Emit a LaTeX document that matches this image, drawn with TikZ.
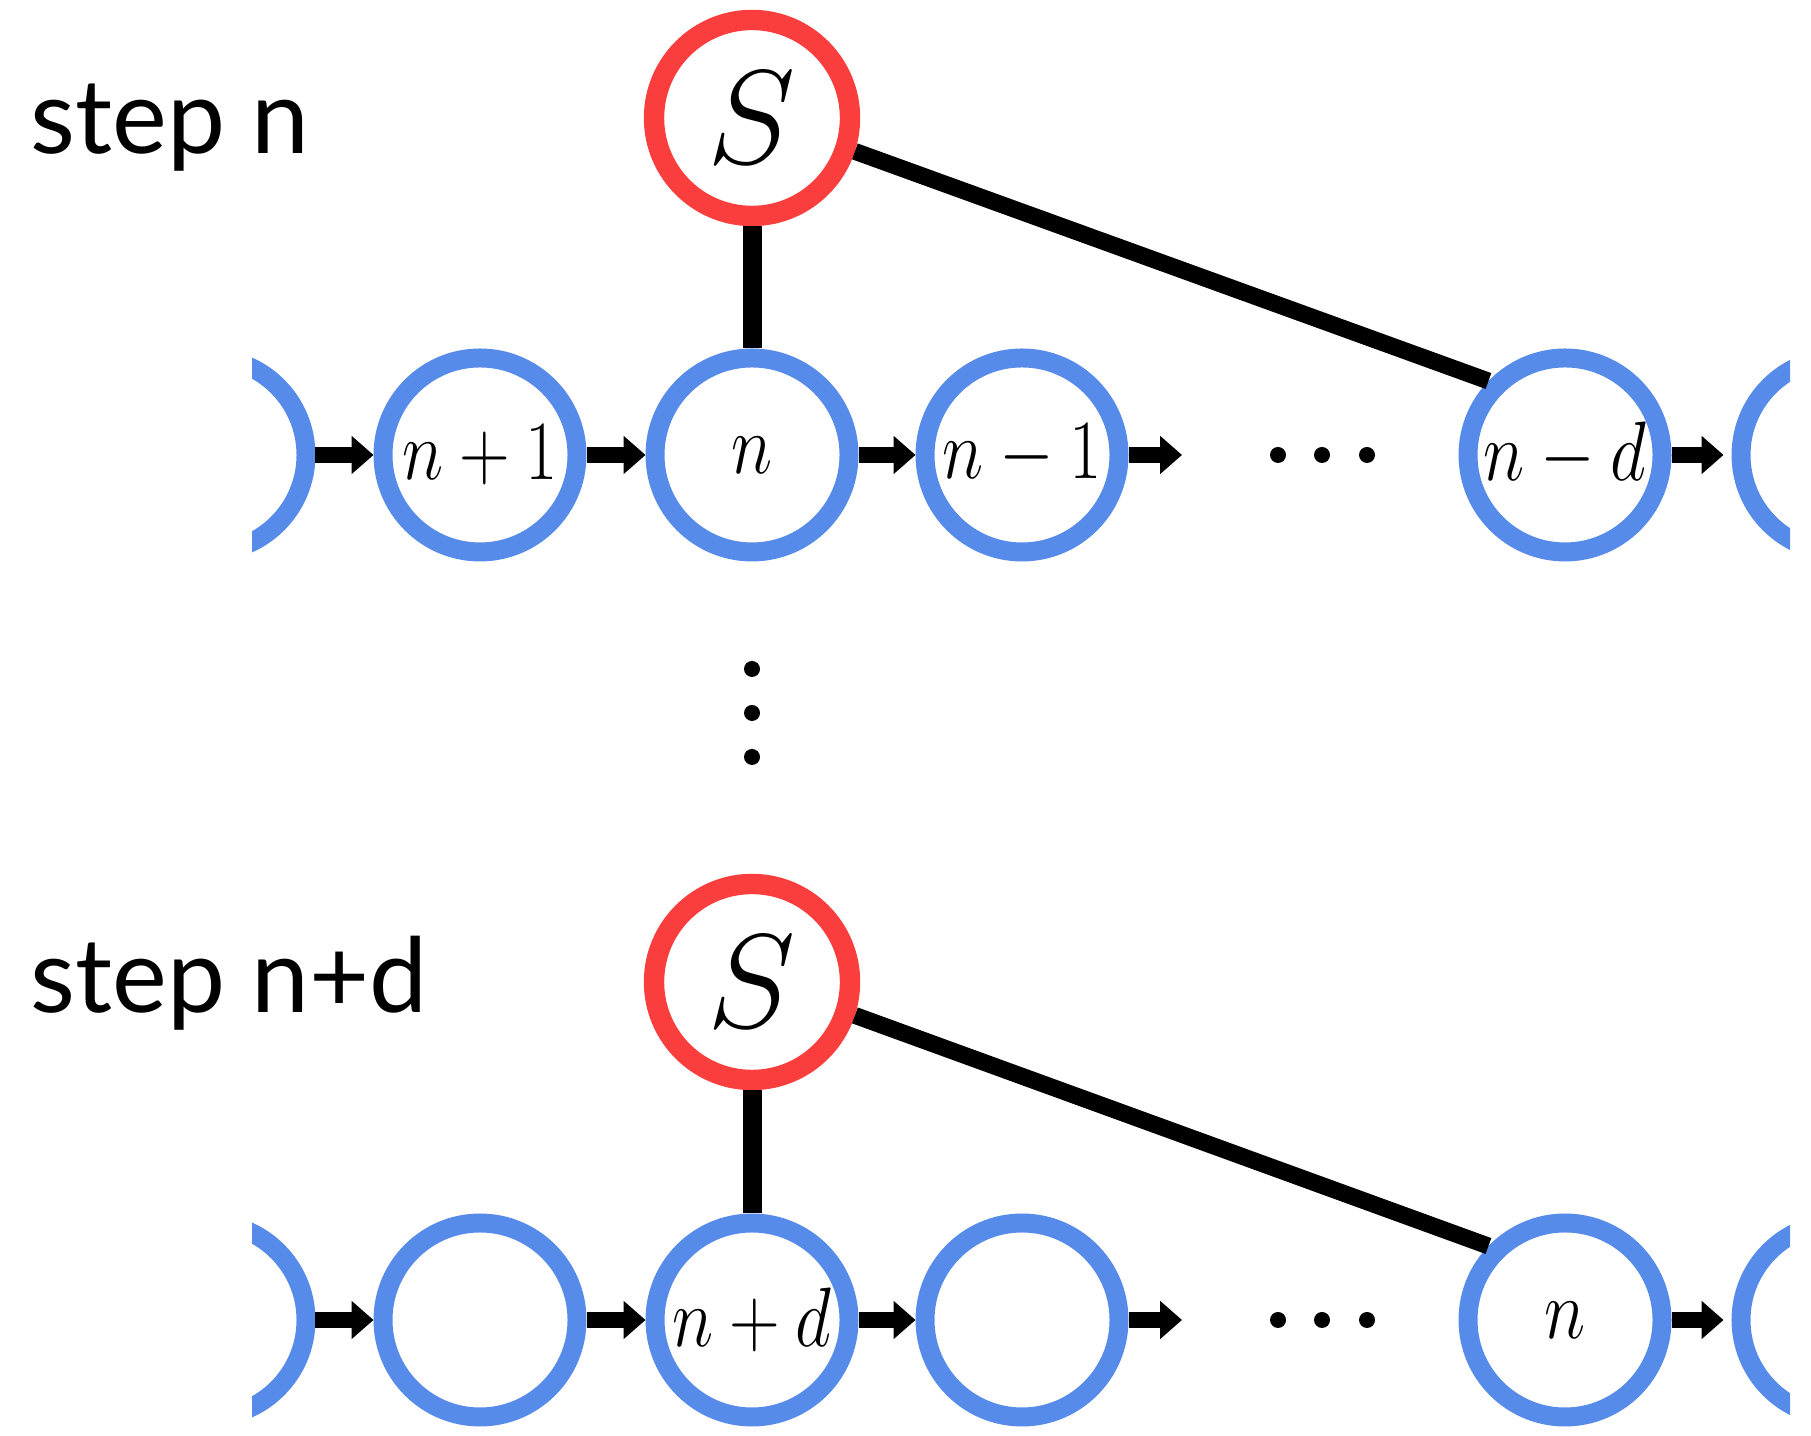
\RequirePackage{fix-cm}
\documentclass[tikz,border=0pt]{standalone}
\usepackage{amsmath}
\usepackage{amssymb}
\usepackage[no-math]{fontspec}
\usepackage{tikz}
\usetikzlibrary{arrows.meta}
\newfontfamily\stepfont{Lato}
\definecolor{cellblue}{RGB}{87,139,233}
\definecolor{rootred}{RGB}{250,62,62}
\newcommand{\lab}[1]{\scalebox{1}[1.2]{$#1$}}

\begin{document}
\begin{tikzpicture}[
    cell/.style={circle,draw=cellblue,line width=5.4pt,minimum size=1.94cm,inner sep=0pt,
      font=\fontsize{20}{24}\selectfont},
    root/.style={circle,draw=rootred,line width=5.8pt,minimum size=1.96cm,inner sep=0pt,
      font=\fontsize{38}{42}\selectfont},
    nxt/.style={line width=4.4pt,-{Triangle[length=2.2mm,width=3.7mm]}},
    link/.style={line width=5.4pt},
    slant/.style={line width=4.8pt},
    dot/.style={circle,fill=black,inner sep=0pt,minimum size=1.6mm},
    steplabel/.style={anchor=base west,inner sep=0pt,font=\stepfont\fontsize{29.5}{33}\selectfont}]
  \useasboundingbox (0,0) rectangle (18.11,14.36);

  % step n
  \node[steplabel] (t1) at (0.30,12.82) {step n};
  \node[root] (s1) at (7.52,13.18) {$S$};
  \begin{scope}
    \clip (2.52,0) rectangle (17.90,14.36);
    \node[cell] (a0) at (2.09,9.81) {};
    \node[cell] (a5) at (18.38,9.81) {};
  \end{scope}
  \node[cell] (a1) at (4.80,9.81) {\lab{n+1}};
  \node[cell] (a2) at (7.52,9.81) {\lab{n}};
  \node[cell] (a3) at (10.22,9.81) {\lab{n-1}};
  \node[cell] (a4) at (15.65,9.81) {\lab{n-d}};
  \coordinate (e1) at (11.82,9.81);
  \node[dot] (h1) at (12.78,9.81) {};
  \node[dot] (h2) at (13.22,9.81) {};
  \node[dot] (h3) at (13.67,9.81) {};
  \draw[nxt] (a0.east) -- (a1.west);
  \draw[nxt] (a1.east) -- (a2.west);
  \draw[nxt] (a2.east) -- (a3.west);
  \draw[nxt] (a3.east) -- (e1);
  \draw[nxt] (a4.east) -- ([xshift=-0.8mm]a5.west);
  \draw[link] (s1) -- (a2);
  \draw[slant] (s1.-18) -- (a4.136);

  % vertical dots
  \node[dot] (v1) at (7.52,7.67) {};
  \node[dot] (v2) at (7.52,7.23) {};
  \node[dot] (v3) at (7.52,6.79) {};

  % step n+d
  \node[steplabel] (t2) at (0.30,4.23) {step n+d};
  \node[root] (s2) at (7.52,4.54) {$S$};
  \begin{scope}
    \clip (2.52,0) rectangle (17.90,14.36);
    \node[cell] (b0) at (2.09,1.16) {};
    \node[cell] (b5) at (18.38,1.16) {};
  \end{scope}
  \node[cell] (b1) at (4.80,1.16) {};
  \node[cell] (b2) at (7.52,1.16) {\lab{n+d}};
  \node[cell] (b3) at (10.22,1.16) {};
  \node[cell] (b4) at (15.65,1.16) {\lab{n}};
  \coordinate (e2) at (11.82,1.16);
  \node[dot] (g1) at (12.78,1.16) {};
  \node[dot] (g2) at (13.22,1.16) {};
  \node[dot] (g3) at (13.67,1.16) {};
  \draw[nxt] (b0.east) -- (b1.west);
  \draw[nxt] (b1.east) -- (b2.west);
  \draw[nxt] (b2.east) -- (b3.west);
  \draw[nxt] (b3.east) -- (e2);
  \draw[nxt] (b4.east) -- ([xshift=-0.8mm]b5.west);
  \draw[link] (s2) -- (b2);
  \draw[slant] (s2.-18) -- (b4.136);
\end{tikzpicture}
\end{document}
